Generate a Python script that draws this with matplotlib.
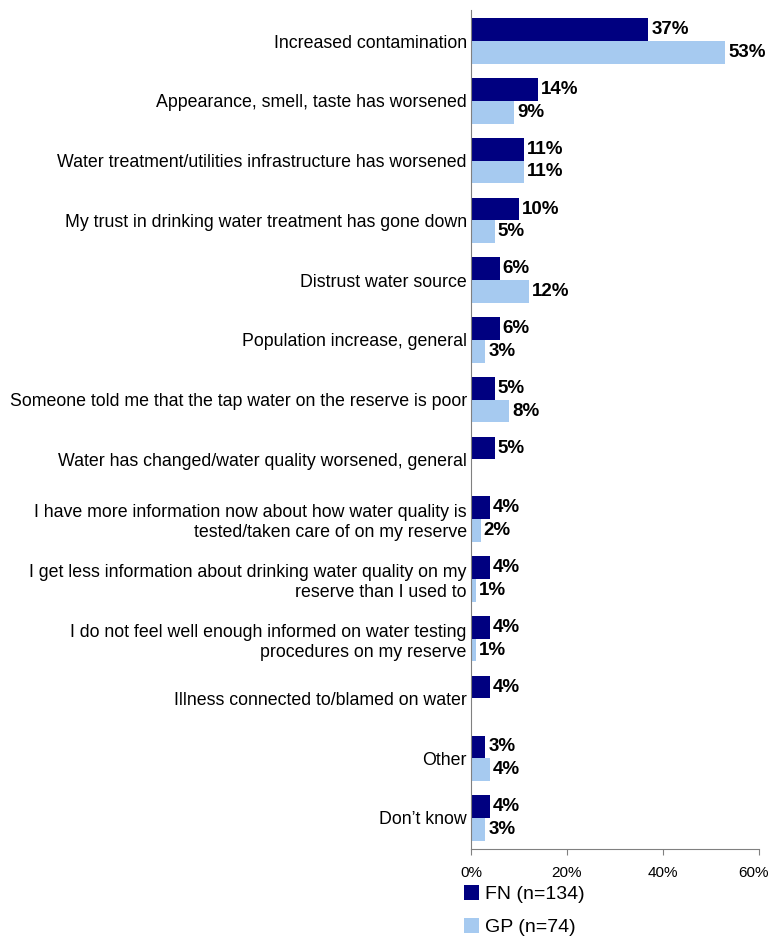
import numpy as np
import matplotlib.pyplot as plt
import matplotlib.transforms as mtransforms

plt.rcParams['font.family'] = ['Liberation Sans', 'DejaVu Sans']

categories = [
    'Increased contamination',
    'Appearance, smell, taste has worsened',
    'Water treatment/utilities infrastructure has worsened',
    'My trust in drinking water treatment has gone down',
    'Distrust water source',
    'Population increase, general',
    'Someone told me that the tap water on the reserve is poor',
    'Water has changed/water quality worsened, general',
    'I have more information now about how water quality is\ntested/taken care of on my reserve',
    'I get less information about drinking water quality on my\nreserve than I used to',
    'I do not feel well enough informed on water testing\nprocedures on my reserve',
    'Illness connected to/blamed on water',
    'Other',
    'Don\u2019t know',
]
fn_values = [37, 14, 11, 10, 6, 6, 5, 5, 4, 4, 4, 4, 3, 4]
gp_values = [53, 9, 11, 5, 12, 3, 8, None, 2, 1, 1, None, 4, 3]

fn_color = '#000080'
gp_color = '#a6caf0'

fig = plt.figure(figsize=(7.72, 9.39), dpi=100)
ax = fig.add_axes([0.610, 0.0958, 0.373, 0.8935])

y = np.arange(len(categories))
h = 0.38
fn_bars = ax.barh(y - h / 2, fn_values, height=h, color=fn_color, label='FN (n=134)')
gp_plot = [v if v is not None else 0 for v in gp_values]
gp_bars = ax.barh(y + h / 2, gp_plot, height=h, color=gp_color, label='GP (n=74)')

for yi, v in zip(y, fn_values):
    ax.text(v + 0.6, yi - h / 2, f'{v}%', va='center', ha='left',
            fontsize=13.5, fontweight='bold')
for yi, v in zip(y, gp_values):
    if v is None:
        continue
    ax.text(v + 0.6, yi + h / 2, f'{v}%', va='center', ha='left',
            fontsize=13.5, fontweight='bold')

ax.set_ylim(len(categories) - 0.48, -0.52)
ax.set_xlim(0, 60)
ax.set_yticks(y)
ax.set_yticklabels(categories, fontsize=12.8, linespacing=1.25)
ax.tick_params(axis='y', length=0, pad=3)
ax.set_xticks([0, 20, 40, 60])
ax.set_xticklabels(['0%', '20%', '40%', '60%'], fontsize=11)
ax.tick_params(axis='x', length=4, color='#808080', pad=8)

# keep the 60% label inside the picture
last = ax.get_xticklabels()[-1]
last.set_transform(last.get_transform() +
                   mtransforms.ScaledTranslation(-4 / 72, 0, fig.dpi_scale_trans))

for s in ['top', 'right']:
    ax.spines[s].set_visible(False)
ax.spines['left'].set_color('#808080')
ax.spines['bottom'].set_color('#808080')

leg = fig.legend(handles=[fn_bars, gp_bars], loc='upper left',
                 bbox_to_anchor=(0.601, 0.057), frameon=False,
                 fontsize=14, handlelength=0.77, handleheight=0.77,
                 handletextpad=0.3, labelspacing=0.75, borderaxespad=0,
                 borderpad=0)

fig.savefig('out.png', dpi=100)
